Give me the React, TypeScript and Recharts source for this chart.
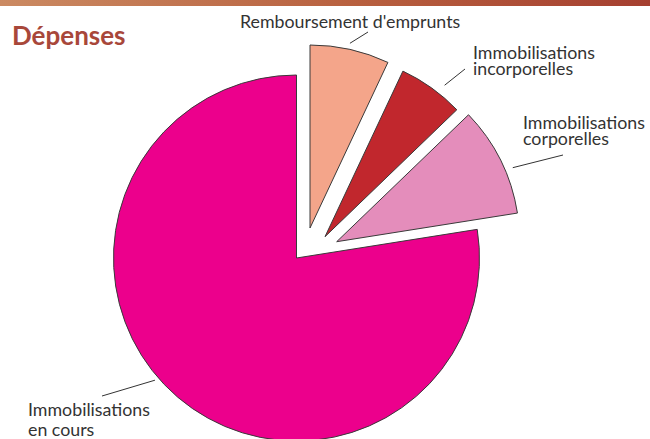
import { PieChart, Pie, Cell } from 'recharts';

// Dépenses, parts in %
const categories = [
  "Remboursement d'emprunts",
  'Immobilisations incorporelles',
  'Immobilisations corporelles',
  'Immobilisations en cours',
];
const shares = [7.0, 5.8, 9.7, 77.5];
const labelLines = [
  ["Remboursement d'emprunts"],
  ['Immobilisations', 'incorporelles'],
  ['Immobilisations', 'corporelles'],
  ['Immobilisations', 'en cours'],
];

const colors = ['#F4A58A', '#C1272D', '#E48DBB', '#EC008C'];
// explode offset of each slice (px)
const explode = [
  [13.5, -30],
  [28.5, -21.3],
  [40.2, -16.3],
  [0, 0],
];
// leader line: angle (deg clockwise from 12h), gap off the rim, end point; text pos
const labelLayout = [
  { angle: 12.2, gap: 6, end: [368, 32], text: [240, 28], lh: 16 },
  { angle: 38.3, gap: 10, end: [465, 69], text: [473, 59], lh: 16 },
  { angle: 67.2, gap: 8, end: [563, 155], text: [523, 129], lh: 16 },
  { angle: 229.2, gap: 4, end: [102, 396], text: [28, 416], lh: 20 },
];

const data = categories.map((name, i) => ({ name, value: shares[i] }));

const CX = 296.5;
const CY = 258;
const R = 183;

const renderLabel = (shown: number) => (props: any) => {
  if (props.index !== shown) return null;
  const l = labelLayout[shown];
  const a = (l.angle * Math.PI) / 180;
  const r = props.outerRadius + l.gap;
  const x1 = props.cx + r * Math.sin(a);
  const y1 = props.cy - r * Math.cos(a);
  return (
    <g key={`lbl-${shown}`}>
      <line x1={x1} y1={y1} x2={l.end[0]} y2={l.end[1]} stroke="#333" strokeWidth={1} />
      {labelLines[shown].map((t, j) => (
        <text
          key={j}
          x={l.text[0]}
          y={l.text[1] + j * l.lh}
          fill="#333"
          fontFamily="Lato, sans-serif"
          fontSize={17.8}
        >
          {t}
        </text>
      ))}
    </g>
  );
};

export default function App() {
  return (
    <div style={{ position: 'absolute', left: 0, top: 0, width: 650, height: 439, overflow: 'hidden', background: '#fff' }}>
      <div
        style={{
          position: 'absolute',
          left: 0,
          top: 0,
          width: 650,
          height: 6,
          background: 'linear-gradient(to right, #CB8A62, #B8603F 55%, #A53F30)',
        }}
      />
      <div
        style={{
          position: 'absolute',
          left: 12,
          top: 22,
          fontFamily: 'Lato, sans-serif',
          fontWeight: 700,
          fontSize: 26,
          lineHeight: '26px',
          color: '#A8473A',
        }}
      >
        Dépenses
      </div>
      <PieChart width={650} height={439} margin={{ top: 0, right: 0, bottom: 0, left: 0 }}>
        {[3, 0, 1, 2].map((shown) => (
          <Pie
            key={shown}
            data={data}
            dataKey="value"
            nameKey="name"
            cx={CX + explode[shown][0]}
            cy={CY + explode[shown][1]}
            outerRadius={R}
            startAngle={90}
            endAngle={-270}
            isAnimationActive={false}
            labelLine={false}
            label={renderLabel(shown)}
          >
            {data.map((d, i) => (
              <Cell
                key={d.name}
                fill={i === shown ? colors[i] : 'none'}
                stroke={i === shown ? '#3a3a3a' : 'none'}
                strokeWidth={1}
              />
            ))}
          </Pie>
        ))}
      </PieChart>
    </div>
  );
}
